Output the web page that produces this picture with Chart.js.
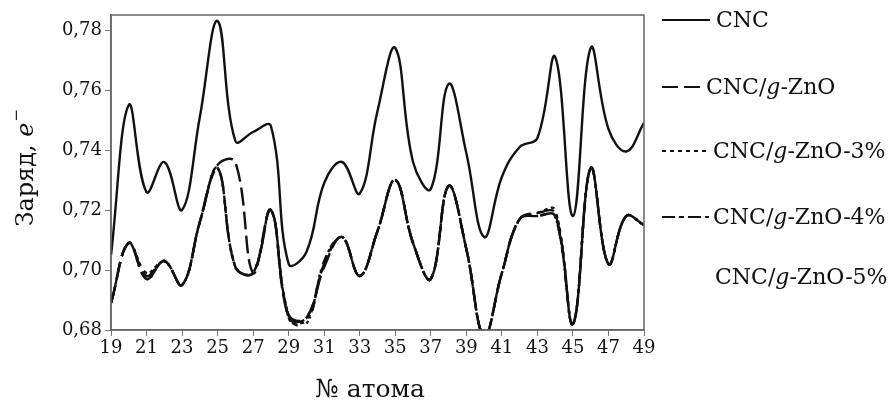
<!DOCTYPE html>
<html>
<head>
<meta charset="utf-8">
<script src="https://cdn.jsdelivr.net/npm/chart.js@4"></script>
<style>
  html, body { margin: 0; padding: 0; background: #fff; }
  #wrap { width: 892px; height: 405px; }
</style>
</head>
<body>
<div id="wrap"><canvas id="chart"></canvas></div>
<script>
// atom numbers and charges
const atoms = [19, 20, 21, 22, 23, 24, 25, 26, 27, 28, 29, 30, 31, 32, 33, 34, 35, 36, 37, 38, 39, 40, 41, 42, 43, 44, 45, 46, 47, 48, 49];
const cnc      = [0.705, 0.755, 0.726, 0.736, 0.720, 0.751, 0.783, 0.743, 0.746, 0.748, 0.702, 0.706, 0.729, 0.736, 0.7255, 0.753, 0.774, 0.736, 0.727, 0.762, 0.739, 0.711, 0.731, 0.741, 0.744, 0.771, 0.718, 0.774, 0.747, 0.7395, 0.749];
const cncZnO   = [0.689, 0.709, 0.697, 0.703, 0.695, 0.716, 0.735, 0.736, 0.699, 0.720, 0.684, 0.684, 0.701, 0.711, 0.698, 0.713, 0.730, 0.709, 0.697, 0.728, 0.707, 0.678, 0.699, 0.717, 0.718, 0.718, 0.682, 0.734, 0.702, 0.718, 0.715];
const cncZnO3  = [0.689, 0.709, 0.699, 0.703, 0.695, 0.716, 0.734, 0.701, 0.699, 0.720, 0.685, 0.683, 0.702, 0.711, 0.698, 0.713, 0.730, 0.709, 0.697, 0.728, 0.707, 0.678, 0.699, 0.717, 0.719, 0.720, 0.682, 0.734, 0.702, 0.718, 0.715];
const cncZnO4  = [0.689, 0.709, 0.697, 0.703, 0.695, 0.716, 0.734, 0.701, 0.699, 0.720, 0.684, 0.682, 0.703, 0.711, 0.698, 0.713, 0.730, 0.709, 0.697, 0.728, 0.707, 0.678, 0.699, 0.717, 0.718, 0.718, 0.682, 0.734, 0.702, 0.718, 0.715];
const cncZnO5  = [0.689, 0.709, 0.698, 0.703, 0.695, 0.716, 0.734, 0.701, 0.699, 0.720, 0.685, 0.684, 0.702, 0.711, 0.698, 0.713, 0.730, 0.709, 0.697, 0.728, 0.707, 0.678, 0.699, 0.717, 0.719, 0.719, 0.682, 0.734, 0.702, 0.718, 0.715];
const seriesNames = ['CNC', 'CNC/g-ZnO', 'CNC/g-ZnO-3%', 'CNC/g-ZnO-4%', 'CNC/g-ZnO-5%'];
const xTicks = [19, 21, 23, 25, 27, 29, 31, 33, 35, 37, 39, 41, 43, 45, 47, 49];
const yTicks = [0.68, 0.70, 0.72, 0.74, 0.76, 0.78];

const FONT = '"DejaVu Serif", "Liberation Serif", serif';
const INK = '#111';

const toPoints = vals => vals.map((v, i) => ({ x: atoms[i], y: v }));

// text with an italic "g" as in the source figure
function richParts(name) {
    const i = name.indexOf('/g-');
    if (i < 0) return [[name, false]];
    return [[name.slice(0, i + 1), false], ['g', true], [name.slice(i + 2), false]];
}

function drawParts(ctx, parts, x, y, size) {
    let cx = x;
    parts.forEach(([t, it]) => {
        ctx.font = (it ? 'italic ' : '') + size + 'px ' + FONT;
        ctx.fillText(t, cx, y);
        cx += ctx.measureText(t).width;
    });
    return cx - x;
}

function partsWidth(ctx, parts, size) {
    let w = 0;
    parts.forEach(([t, it]) => {
        ctx.font = (it ? 'italic ' : '') + size + 'px ' + FONT;
        w += ctx.measureText(t).width;
    });
    return w;
}

const decorations = {
    id: 'decorations',
    afterDraw(chart) {
        const { ctx, chartArea: a } = chart;
        ctx.save();

        // frame
        ctx.strokeStyle = '#666';
        ctx.lineWidth = 1.5;
        ctx.setLineDash([]);
        ctx.strokeRect(a.left, a.top, a.right - a.left, a.bottom - a.top);

        ctx.fillStyle = INK;
        ctx.textBaseline = 'middle';

        // x title
        ctx.font = '25px ' + FONT;
        ctx.textAlign = 'center';
        ctx.fillText('№ атома', 370, 390);

        // y title, rotated
        ctx.save();
        ctx.translate(27, 170);
        ctx.rotate(-Math.PI / 2);
        ctx.textAlign = 'left';
        const yParts = [['Заряд, ', false], ['e', true]];
        const w = partsWidth(ctx, yParts, 24) + 9;
        const used = drawParts(ctx, yParts, -w / 2, 0, 24);
        ctx.font = '15px ' + FONT;
        ctx.fillText('−', -w / 2 + used + 1, -10);
        ctx.restore();

        // legend
        const rows = [
            { y: 20, x0: 662, x1: 710, tx: 716 },
            { y: 87, x0: 662, x1: 702, tx: 706 },
            { y: 151, x0: 662, x1: 709, tx: 713 },
            { y: 217, x0: 662, x1: 709, tx: 713 },
            { y: 277, x0: 0, x1: 0, tx: 715 }
        ];
        ctx.textAlign = 'left';
        chart.data.datasets.forEach((ds, i) => {
            const r = rows[i];
            if (ds.legendDash) {
                ctx.strokeStyle = INK;
                ctx.lineWidth = 2.2;
                ctx.setLineDash(ds.legendDash);
                ctx.beginPath();
                ctx.moveTo(r.x0, r.y);
                ctx.lineTo(r.x1, r.y);
                ctx.stroke();
            }
            ctx.setLineDash([]);
            drawParts(ctx, richParts(ds.label), r.tx, r.y + 1, 22);
        });
        ctx.restore();
    }
};

const lineBase = {
    borderColor: INK,
    borderWidth: 2.4,
    pointRadius: 0,
    fill: false,
    tension: 0.4
};

new Chart(document.getElementById('chart'), {
    type: 'line',
    data: {
        datasets: [
            { ...lineBase, label: seriesNames[0], data: toPoints(cnc), borderDash: [], legendDash: [] },
            { ...lineBase, label: seriesNames[1], data: toPoints(cncZnO), borderDash: [18, 6], legendDash: [16, 6] },
            { ...lineBase, label: seriesNames[2], data: toPoints(cncZnO3), borderDash: [4, 3, 4, 3, 4, 6], legendDash: [4, 4] },
            { ...lineBase, label: seriesNames[3], data: toPoints(cncZnO4), borderDash: [10, 3, 3, 2, 6], legendDash: [13, 4, 5, 4] },
            { ...lineBase, label: seriesNames[4], data: toPoints(cncZnO5), borderDash: [18, 6], legendDash: null }
        ]
    },
    options: {
        responsive: true,
        maintainAspectRatio: false,
        animation: false,
        layout: { padding: { top: 15, right: 248, left: 0, bottom: 0 } },
        plugins: {
            legend: { display: false },
            tooltip: { enabled: false }
        },
        scales: {
            x: {
                type: 'linear',
                min: 19,
                max: 49,
                afterBuildTicks: s => { s.ticks = xTicks.map(v => ({ value: v })); },
                afterFit: s => { s.height = 75; },
                ticks: { color: INK, font: { family: FONT, size: 18 }, padding: 2, maxRotation: 0, autoSkip: false },
                grid: { drawOnChartArea: false, tickLength: 6, color: '#777' },
                border: { color: '#666', width: 1.5 }
            },
            y: {
                min: 0.68,
                max: 0.785,
                afterBuildTicks: s => { s.ticks = yTicks.map(v => ({ value: v })); },
                afterFit: s => { s.width = 111; },
                ticks: {
                    color: INK,
                    font: { family: FONT, size: 18 },
                    padding: 3,
                    callback: v => v.toFixed(2).replace('.', ',')
                },
                grid: { drawOnChartArea: false, tickLength: 6, color: '#777' },
                border: { color: '#666', width: 1.5 }
            }
        }
    },
    plugins: [decorations]
});
</script>
</body>
</html>
